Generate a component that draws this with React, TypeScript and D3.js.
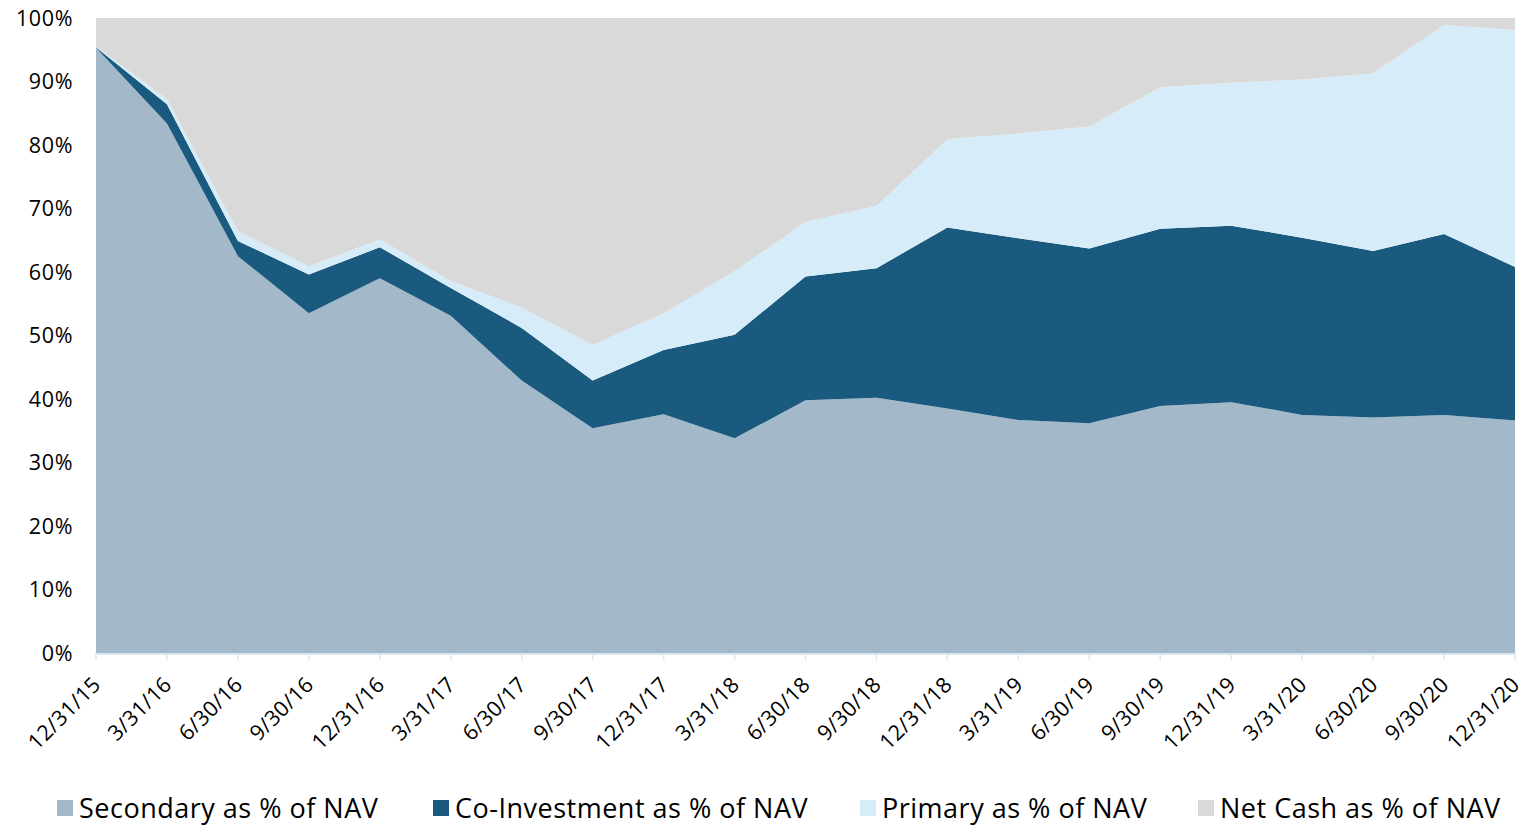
import React from 'react';
import * as d3 from 'd3';

const dates = [
  '12/31/15', '3/31/16', '6/30/16', '9/30/16', '12/31/16', '3/31/17', '6/30/17',
  '9/30/17', '12/31/17', '3/31/18', '6/30/18', '9/30/18', '12/31/18', '3/31/19',
  '6/30/19', '9/30/19', '12/31/19', '3/31/20', '6/30/20', '9/30/20', '12/31/20',
];

const secondary = [95.3, 83.4, 62.5, 53.5, 59.0, 53.1, 42.9, 35.4, 37.6, 33.8, 39.8, 40.2, 38.5, 36.7, 36.2, 38.9, 39.5, 37.5, 37.1, 37.5, 36.6];
const coInvestment = [0.1, 3.0, 2.4, 6.1, 4.9, 4.4, 8.3, 7.5, 10.1, 16.3, 19.5, 20.4, 28.5, 28.6, 27.5, 27.9, 27.8, 27.9, 26.2, 28.5, 24.2];
const primary = [0.1, 0.8, 1.5, 1.3, 1.2, 1.1, 3.2, 5.6, 5.8, 10.0, 8.6, 9.8, 13.9, 16.5, 19.2, 22.3, 22.5, 24.9, 28.0, 32.9, 37.3];
const netCash = dates.map((_, i) => 100 - secondary[i] - coInvestment[i] - primary[i]);

const seriesNames = ['Secondary as % of NAV', 'Co-Investment as % of NAV', 'Primary as % of NAV', 'Net Cash as % of NAV'];
const colors = ['#a3b9ca', '#1b5a7f', '#d6edf9', '#d9d9d9'];
const yTicks = [0, 10, 20, 30, 40, 50, 60, 70, 80, 90, 100];

const W = 1526;
const H = 825;
const margin = { top: 18, right: 11, bottom: 172, left: 96 };
const font = '"Open Sans", Lato, sans-serif';

export default function App() {
  const rows = dates.map((d, i) => ({
    date: d,
    s0: secondary[i],
    s1: coInvestment[i],
    s2: primary[i],
    s3: netCash[i],
  }));
  const keys = ['s0', 's1', 's2', 's3'];
  const stacked = d3.stack<any>().keys(keys)(rows);

  const x = d3
    .scalePoint()
    .domain(dates)
    .range([margin.left, W - margin.right]);
  const y = d3
    .scaleLinear()
    .domain([0, 100])
    .range([H - margin.bottom, margin.top]);

  const area = d3
    .area<any>()
    .x((d) => x(d.data.date) as number)
    .y0((d) => y(d[0]))
    .y1((d) => y(d[1]));

  const legendX = [57, 433, 860, 1198];

  return (
    <svg
      width={W}
      height={H}
      style={{ position: 'absolute', left: 0, top: 0, display: 'block', background: '#fff' }}
    >
      {stacked.map((s, i) => (
        <path key={i} d={area(s) || ''} fill={colors[i]} />
      ))}

      {/* y axis labels */}
      {yTicks.map((t) => (
        <text
          key={t}
          x={73}
          y={y(t)}
          dy="0.36em"
          textAnchor="end"
          fontFamily={font}
          fontSize={21.5}
          letterSpacing={0.6}
          fill="#000"
        >
          {t}%
        </text>
      ))}

      {/* x axis */}
      <line
        x1={margin.left}
        x2={W - margin.right}
        y1={y(0) + 1}
        y2={y(0) + 1}
        stroke="#dde6ec"
        strokeWidth={2}
      />
      {dates.map((d) => (
        <g key={d} transform={`translate(${x(d)},${y(0)})`}>
          <line y1={0} y2={7} stroke="#dde6ec" strokeWidth={1.5} />
          <text
            transform="translate(6,33) rotate(-45)"
            textAnchor="end"
            fontFamily={font}
            fontSize={21.5}
            letterSpacing={0.3}
            fill="#000"
          >
            {d}
          </text>
        </g>
      ))}

      {/* legend */}
      {seriesNames.map((n, i) => (
        <g key={n} transform={`translate(${legendX[i]},808)`}>
          <rect x={0} y={-8} width={16} height={16} fill={colors[i]} />
          <text x={22} y={0} dy="0.36em" fontFamily={font} fontSize={27} letterSpacing={0.5} fill="#000">
            {n}
          </text>
        </g>
      ))}
    </svg>
  );
}
